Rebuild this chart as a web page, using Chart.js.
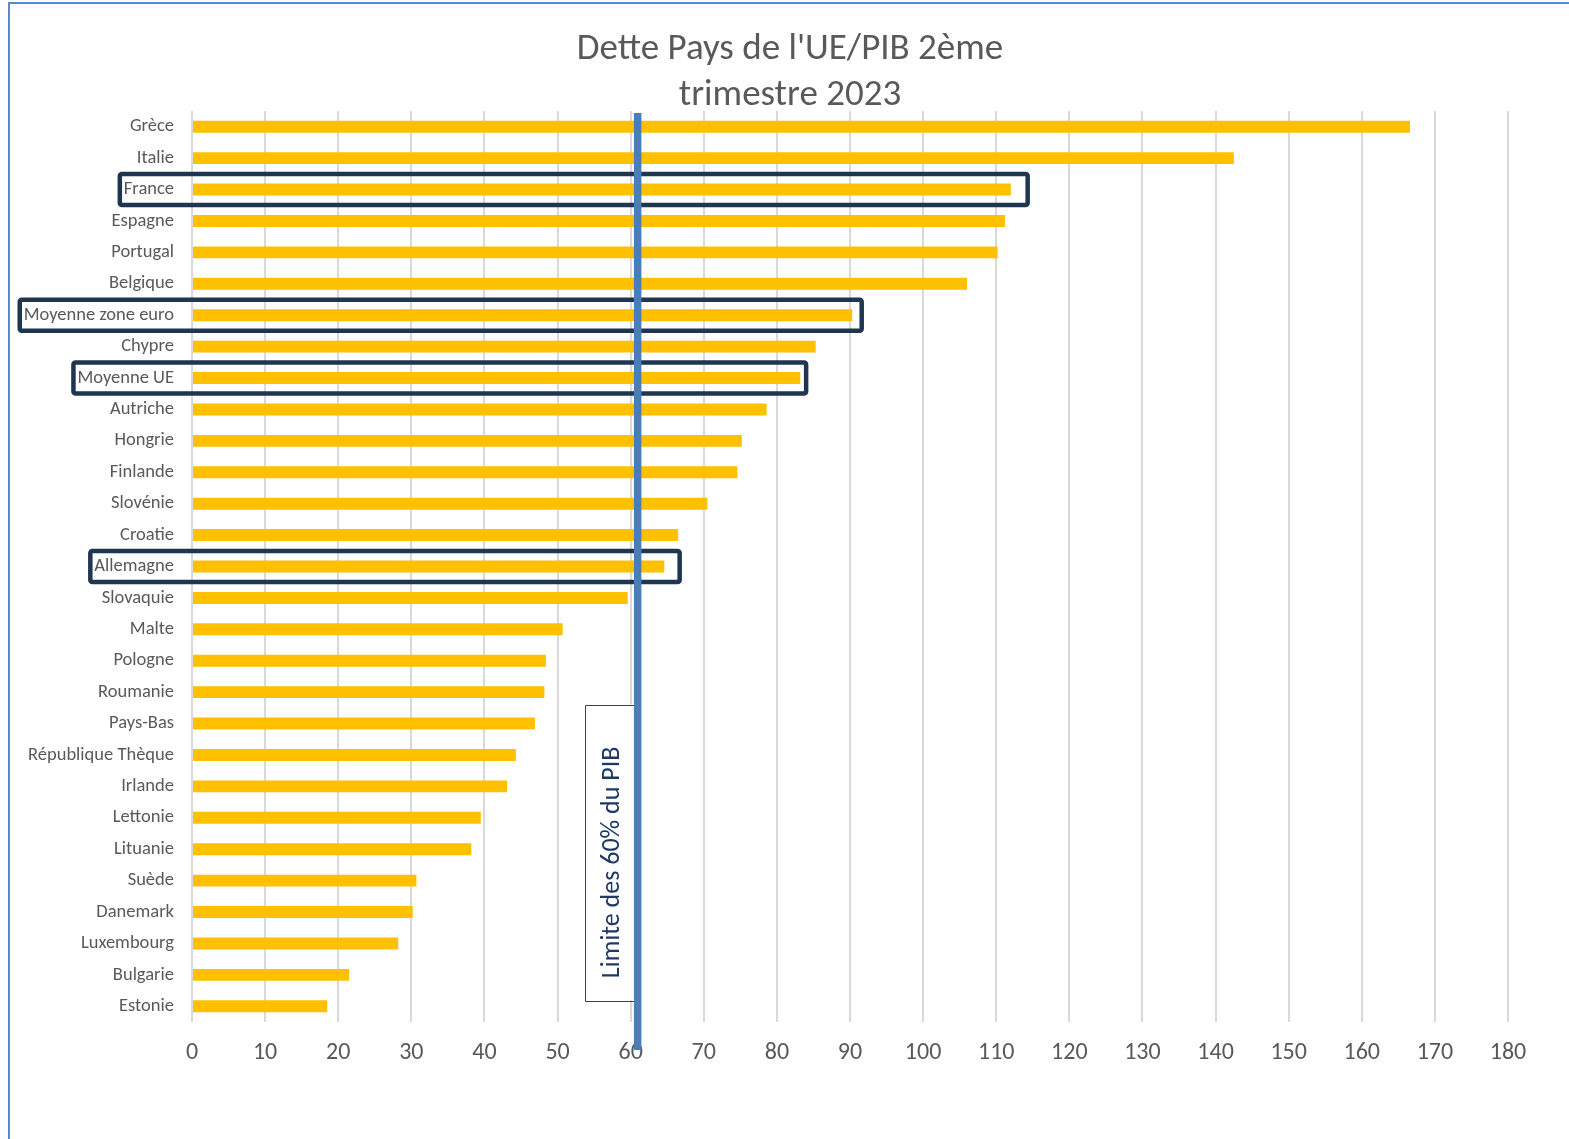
<!DOCTYPE html>
<html>
<head>
<meta charset="utf-8">
<script src="https://cdn.jsdelivr.net/npm/chart.js@4.4.0/dist/chart.umd.min.js"></script>
<style>
  html, body { margin: 0; padding: 0; background: #ffffff; overflow: hidden; }
  body { width: 1569px; height: 1139px; position: relative; }
  #frame { position: absolute; left: 8px; top: 2px; width: 1600px; height: 1200px;
           border-left: 2px solid #5B87CF; border-top: 2px solid #5B87CF; }
  #wrap { position: absolute; left: 10px; top: 4px; width: 1560px; height: 1135px; }
</style>
</head>
<body>
<div id="frame"></div>
<div id="wrap"><canvas id="c" width="1560" height="1135"></canvas></div>
<script>
// ---- data ----
const categories = [
  "Grèce", "Italie", "France", "Espagne", "Portugal", "Belgique",
  "Moyenne zone euro", "Chypre", "Moyenne UE", "Autriche", "Hongrie",
  "Finlande", "Slovénie", "Croatie", "Allemagne", "Slovaquie", "Malte",
  "Pologne", "Roumanie", "Pays-Bas", "République Thèque", "Irlande",
  "Lettonie", "Lituanie", "Suède", "Danemark", "Luxembourg", "Bulgarie", "Estonie"
];
const debtToGdp = [
  166.6, 142.5, 112.0, 111.2, 110.2, 106.0,
  90.3, 85.3, 83.2, 78.6, 75.2,
  74.6, 70.5, 66.5, 64.6, 59.6, 50.7,
  48.4, 48.2, 46.9, 44.3, 43.1,
  39.5, 38.2, 30.7, 30.2, 28.2, 21.5, 18.5
];
const xTickValues = [0,10,20,30,40,50,60,70,80,90,100,110,120,130,140,150,160,170,180];
const titleLines = ["Dette Pays de l'UE/PIB 2ème", "trimestre 2023"];
const highlighted = ["France", "Moyenne zone euro", "Moyenne UE", "Allemagne"];
const highlightBoxEnd = [114.3, 91.6, 84.0, 66.7];
const limitValue = 60;
const limitLabel = "Limite des 60% du PIB";

const FONT = "Carlito, Lato, 'Liberation Sans', sans-serif";
const LABEL_SIZE = 18.5;

const overlayPlugin = {
  id: 'overlay',
  afterDatasetsDraw(chart) {
    const ctx = chart.ctx;
    const xs = chart.scales.x, ys = chart.scales.y;
    const area = chart.chartArea;
    ctx.save();
    // highlight boxes
    ctx.font = LABEL_SIZE + "px " + FONT;
    const labelRight = ys.right - 18;
    highlighted.forEach((name, i) => {
      const idx = categories.indexOf(name);
      const yc = ys.getPixelForValue(idx);
      const w = ctx.measureText(name).width;
      const left = labelRight - w - 4;
      const right = xs.getPixelForValue(highlightBoxEnd[i]);
      ctx.beginPath();
      ctx.lineWidth = 4.5;
      ctx.strokeStyle = '#1F3550';
      ctx.lineJoin = 'round';
      ctx.roundRect(left, yc - 15.5, right - left, 31, 2);
      ctx.stroke();
    });
    // label box
    const xl = xs.getPixelForValue(limitValue) + 7;
    const boxTop = ys.getPixelForValue(categories.indexOf("Pays-Bas")) - 19;
    const boxBottom = ys.getPixelForValue(categories.length - 1) - 6;
    const boxLeft = xs.getPixelForValue(limitValue) - 46;
    const boxRight = xl - 3;
    ctx.fillStyle = '#ffffff';
    ctx.fillRect(boxLeft, boxTop, boxRight - boxLeft, boxBottom - boxTop);
    ctx.lineWidth = 1;
    ctx.strokeStyle = '#404040';
    ctx.strokeRect(Math.round(boxLeft) + 0.5, Math.round(boxTop) + 0.5,
                   Math.round(boxRight - boxLeft), Math.round(boxBottom - boxTop));
    ctx.save();
    ctx.translate((boxLeft + boxRight) / 2 + 3, (boxTop + boxBottom) / 2 + 10);
    ctx.rotate(-Math.PI / 2);
    ctx.fillStyle = '#1F3864';
    ctx.font = "26px " + FONT;
    ctx.textAlign = 'center';
    ctx.textBaseline = 'middle';
    ctx.fillText(limitLabel, 0, 0);
    ctx.restore();
    // limit line
    ctx.beginPath();
    ctx.strokeStyle = '#4A7EBB';
    ctx.lineWidth = 7.5;
    ctx.moveTo(xl, area.top + 2);
    ctx.lineTo(xl, area.bottom + 28);
    ctx.stroke();
    ctx.restore();
  },
  afterDraw(chart) {
    const ctx = chart.ctx;
    ctx.save();
    ctx.fillStyle = '#595959';
    ctx.font = "37px " + FONT;
    ctx.textAlign = 'center';
    ctx.textBaseline = 'middle';
    const cx = chart.width / 2;
    titleLines.forEach((line, i) => ctx.fillText(line, cx, 46 + i * 46));
    ctx.restore();
  }
};

new Chart(document.getElementById('c'), {
  type: 'bar',
  data: {
    labels: categories,
    datasets: [{
      data: debtToGdp,
      backgroundColor: '#FFC000',
      borderWidth: 0,
      barPercentage: 0.38,
      categoryPercentage: 1.0
    }]
  },
  options: {
    indexAxis: 'y',
    responsive: false,
    animation: false,
    devicePixelRatio: 1,
    layout: { padding: { left: 0, right: 62, top: 107, bottom: 0 } },
    plugins: {
      legend: { display: false },
      tooltip: { enabled: false },
      title: { display: false }
    },
    scales: {
      x: {
        min: 0, max: 180,
        afterBuildTicks(scale) { scale.ticks = xTickValues.map(v => ({ value: v })); },
        afterFit(scale) { scale.height = 117; },
        grid: { color: '#D9D9D9', lineWidth: 2, drawTicks: false },
        border: { display: false },
        ticks: { color: '#595959', font: { family: FONT, size: 24 }, padding: 17, maxRotation: 0 }
      },
      y: {
        afterFit(scale) { scale.width = 182; },
        grid: { display: false, drawTicks: false },
        border: { display: false },
        ticks: { color: '#595959', font: { family: FONT, size: LABEL_SIZE }, padding: 18, autoSkip: false }
      }
    }
  },
  plugins: [overlayPlugin]
});
</script>
</body>
</html>
